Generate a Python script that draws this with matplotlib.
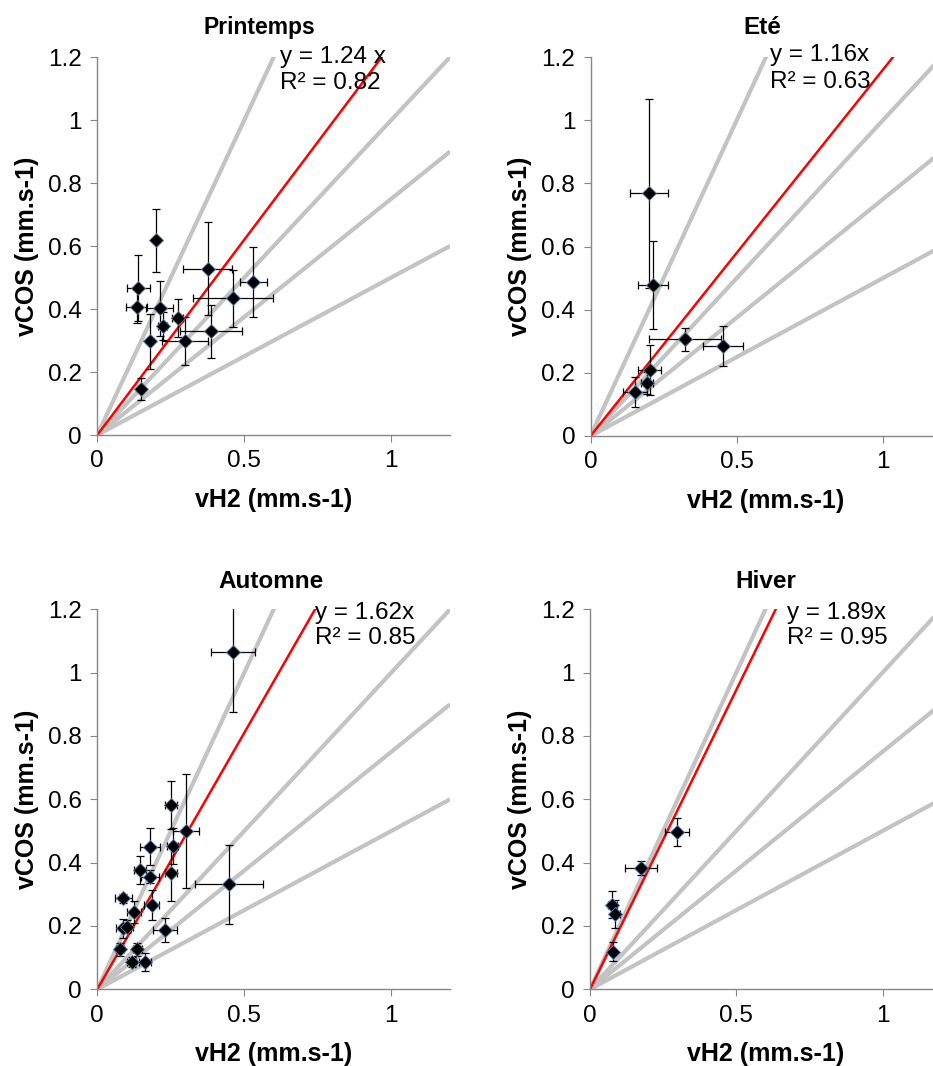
import matplotlib
matplotlib.use("Agg")
import matplotlib.pyplot as plt
import numpy as np

plt.rcParams['font.family'] = ['Liberation Sans', 'DejaVu Sans']

titles = ["Printemps", "Eté", "Automne", "Hiver"]
fit_slopes = [1.24, 1.16, 1.62, 1.89]
eq_labels = ["y = 1.24 x", "y = 1.16x", "y = 1.62x", "y = 1.89x"]
r2_labels = ["R² = 0.82", "R² = 0.63", "R² = 0.85", "R² = 0.95"]
ref_slopes = [2.0, 1.0, 0.75, 0.5]

# Printemps
p_x = [0.199, 0.140, 0.134, 0.213, 0.222, 0.273, 0.179, 0.298, 0.148, 0.375, 0.461, 0.531, 0.386]
p_y = [0.618, 0.466, 0.407, 0.402, 0.346, 0.372, 0.297, 0.298, 0.145, 0.528, 0.434, 0.486, 0.329]
p_xe = [0.0, 0.038, 0.036, 0.046, 0.015, 0.02, 0.01, 0.077, 0.01, 0.084, 0.137, 0.045, 0.105]
p_ye = [0.10, 0.105, 0.053, 0.088, 0.045, 0.06, 0.086, 0.076, 0.035, 0.147, 0.091, 0.112, 0.084]

# Eté
e_x = [0.200, 0.214, 0.324, 0.454, 0.203, 0.192, 0.152]
e_y = [0.768, 0.478, 0.306, 0.285, 0.209, 0.167, 0.140]
e_xe = [0.066, 0.05, 0.123, 0.068, 0.039, 0.02, 0.04]
e_ye = [0.298, 0.139, 0.036, 0.063, 0.079, 0.035, 0.048]

# Automne
a_x = [0.461, 0.251, 0.302, 0.179, 0.256, 0.145, 0.179, 0.251, 0.449, 0.089,
       0.125, 0.185, 0.089, 0.100, 0.230, 0.077, 0.136, 0.117, 0.162]
a_y = [1.065, 0.582, 0.501, 0.450, 0.452, 0.377, 0.356, 0.366, 0.332, 0.287,
       0.245, 0.266, 0.193, 0.198, 0.187, 0.126, 0.126, 0.087, 0.087]
a_xe = [0.075, 0.02, 0.043, 0.034, 0.02, 0.02, 0.03, 0.02, 0.116, 0.028,
        0.025, 0.025, 0.025, 0.02, 0.04, 0.015, 0.015, 0.015, 0.02]
a_ye = [0.19, 0.075, 0.18, 0.059, 0.056, 0.043, 0.02, 0.088, 0.125, 0.015,
        0.035, 0.047, 0.03, 0.02, 0.039, 0.02, 0.02, 0.015, 0.028]

# Hiver
h_x = [0.297, 0.174, 0.076, 0.086, 0.080]
h_y = [0.496, 0.383, 0.267, 0.238, 0.119]
h_xe = [0.04, 0.055, 0.015, 0.015, 0.01]
h_ye = [0.044, 0.023, 0.042, 0.045, 0.029]

data = [(p_x, p_y, p_xe, p_ye), (e_x, e_y, e_xe, e_ye),
        (a_x, a_y, a_xe, a_ye), (h_x, h_y, h_xe, h_ye)]

yticks = [0, 0.2, 0.4, 0.6, 0.8, 1.0, 1.2]
yticklabels = ["0", "0.2", "0.4", "0.6", "0.8", "1", "1.2"]
xticks = [0, 0.5, 1.0]
xticklabels = ["0", "0.5", "1"]

W, H = 933, 1066
fig = plt.figure(figsize=(W / 100, H / 100), dpi=100)

rects = [
    (97.3, 294.0, 435.0, 57.0),
    (590.5, 292.5, 436.0, 57.0),
    (97.3, 294.0, 989.3, 609.3),
    (590.0, 292.5, 989.3, 609.3),
]
title_pos = [(0.46, 1.078), (0.49, 1.077), (0.493, 1.074), (0.50, 1.072)]
title_fs = [16.5, 17.5, 17.5, 17.5]
eq_pos = [(0.621, 1.200, 1.118), (0.614, 1.206, 1.122), (0.740, 1.187, 1.108), (0.673, 1.187, 1.108)]

spine_col = "#868686"
fs_tick = 17.5
fs_lab = 18
fs_eq = 17.5

for i, (x0, sx, y0, ytop) in enumerate(rects):
    left = x0 / W
    width = 1.2 * sx / W
    bottom = 1 - y0 / H
    height = (y0 - ytop) / H
    ax = fig.add_axes([left, bottom, width, height])
    ax.set_xlim(0, 1.2)
    ax.set_ylim(0, 1.2)
    xs = np.array([0, 1.2])
    for s in ref_slopes:
        ax.plot(xs, s * xs, color="#c3c3c3", lw=3.0, solid_capstyle="butt", zorder=1)
    ax.plot(xs, fit_slopes[i] * xs, color="#ff0000", lw=1.8, zorder=2)
    x, y, xe, ye = data[i]
    ax.errorbar(x, y, xerr=xe, yerr=ye, fmt="none", ecolor="black", elinewidth=0.9,
                capsize=3, capthick=0.9, zorder=3)
    ax.plot(x, y, linestyle="none", marker="D", markersize=7.5, markerfacecolor="black",
            markeredgecolor="#4f7bab", markeredgewidth=0.7, zorder=4)
    for sp in ["top", "right"]:
        ax.spines[sp].set_visible(False)
    for sp in ["left", "bottom"]:
        ax.spines[sp].set_color(spine_col)
        ax.spines[sp].set_linewidth(1.0)
    ax.set_yticks(yticks)
    ax.set_yticklabels(yticklabels)
    ax.set_xticks(xticks)
    ax.set_xticklabels(xticklabels)
    ax.tick_params(axis="both", direction="out", length=5, width=0.8, color=spine_col,
                   labelsize=fs_tick, labelcolor="black", pad=6)
    ax.set_xlabel("vH2 (mm.s-1)", fontsize=fs_lab, fontweight="bold")
    ax.xaxis.label.set_va("center")
    ax.xaxis.set_label_coords(0.5, -65.0 / (y0 - ytop))
    ax.set_ylabel("vCOS (mm.s-1)", fontsize=fs_lab, fontweight="bold")
    ax.yaxis.label.set_va("center")
    ax.yaxis.set_label_coords(-70.0 / (1.2 * sx), 0.5)
    tx, ty = title_pos[i]
    ax.text(tx, ty, titles[i], transform=ax.transAxes, ha="center", va="center",
            fontsize=title_fs[i], fontweight="bold", clip_on=False)
    ex, ey1, ey2 = eq_pos[i]
    ax.text(ex, ey1, eq_labels[i], ha="left", va="center", fontsize=fs_eq, clip_on=False, zorder=5)
    ax.text(ex, ey2, r2_labels[i], ha="left", va="center", fontsize=fs_eq, clip_on=False, zorder=5)

fig.savefig("out.png", dpi=100)
